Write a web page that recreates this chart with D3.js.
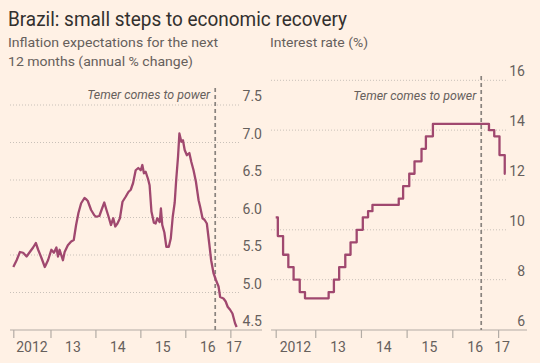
<!DOCTYPE html>
<html>
<head>
<meta charset="utf-8">
<script src="https://cdn.jsdelivr.net/npm/d3@7"></script>
<style>
  html, body { margin: 0; padding: 0; background: #fff1e5; }
  svg { display: block; font-family: Roboto, "Open Sans", sans-serif; }
</style>
</head>
<body>
<svg id="chart" width="540" height="363"></svg>
<script>
// ---------------- DATA ----------------
const inflDates = ["2012-03-05","2012-04-01","2012-04-28","2012-05-24","2012-06-21","2012-07-17","2012-08-13","2012-09-04","2012-09-23","2012-10-20","2012-11-16","2012-12-12","2013-01-08","2013-01-29","2013-02-18","2013-03-03","2013-03-16","2013-04-12","2013-04-26","2013-05-22","2013-06-18","2013-07-09","2013-07-28","2013-08-16","2013-09-07","2013-10-04","2013-10-20","2013-10-31","2013-11-27","2013-12-23","2014-01-06","2014-02-02","2014-02-24","2014-03-14","2014-04-01","2014-04-18","2014-05-07","2014-05-26","2014-06-11","2014-06-29","2014-07-19","2014-08-09","2014-09-05","2014-09-26","2014-10-15","2014-11-03","2014-11-24","2014-12-15","2015-01-04","2015-01-17","2015-01-30","2015-02-13","2015-03-05","2015-03-17","2015-04-01","2015-04-21","2015-05-05","2015-05-18","2015-06-07","2015-06-17","2015-06-28","2015-07-15","2015-07-31","2015-08-20","2015-09-05","2015-09-21","2015-10-07","2015-10-19","2015-11-03","2015-11-14","2015-11-30","2015-12-13","2015-12-27","2016-01-14","2016-02-03","2016-02-19","2016-03-08","2016-03-27","2016-04-18","2016-05-01","2016-05-20","2016-06-05","2016-06-24","2016-07-13","2016-07-29","2016-08-17","2016-09-05","2016-09-27","2016-10-10","2016-11-06","2016-11-24","2016-12-10","2016-12-30","2017-01-18","2017-02-08","2017-02-21"];
const inflValues = [5.34,5.43,5.54,5.53,5.48,5.54,5.60,5.66,5.57,5.46,5.34,5.43,5.57,5.53,5.60,5.48,5.57,5.43,5.54,5.63,5.68,5.70,5.90,6.06,6.19,6.26,6.24,6.22,6.10,6.03,6.01,6.02,6.12,6.20,6.10,6.01,5.90,5.99,5.88,5.92,5.99,6.21,6.28,6.34,6.37,6.46,6.63,6.66,6.63,6.70,6.59,6.61,6.51,6.43,6.08,5.93,5.92,5.99,5.94,6.12,5.90,5.80,5.61,5.61,5.72,6.01,6.20,6.50,6.81,7.12,7.01,7.03,6.90,6.83,6.86,6.74,6.63,6.48,6.23,6.14,5.99,5.97,5.92,5.66,5.43,5.26,5.17,5.08,4.94,4.92,4.88,4.81,4.77,4.72,4.59,4.54];

const rateDates = ["2012-02-20","2012-03-08","2012-04-19","2012-05-31","2012-07-12","2012-08-30","2012-10-11","2013-04-18","2013-05-30","2013-07-11","2013-08-29","2013-10-10","2013-11-28","2014-01-16","2014-02-27","2014-04-03","2014-10-30","2014-12-04","2015-01-22","2015-03-05","2015-04-30","2015-06-04","2015-07-30","2016-10-20","2016-12-01","2017-01-12","2017-02-23","2017-03-01"];
const rateValues = [10.5,9.75,9.0,8.5,8.0,7.5,7.25,7.5,8.0,8.5,9.0,9.5,10.0,10.5,10.75,11.0,11.25,11.75,12.25,12.75,13.25,13.75,14.25,14.0,13.75,13.0,12.25,12.25];

const inflTicks = [4.5, 5.0, 5.5, 6.0, 6.5, 7.0, 7.5];
const rateTicks = [6, 8, 10, 12, 14, 16];
const yearTicks = ["2013-01-01","2014-01-01","2015-01-01","2016-01-01","2017-01-01"];
const yearLabels = ["2012", "13", "14", "15", "16", "17"];
const eventDate = "2016-08-31";
const eventLabel = "Temer comes to power";

const title = "Brazil: small steps to economic recovery";
const subLeft = ["Inflation expectations for the next", "12 months (annual % change)"];
const subRight = "Interest rate (%)";

// ---------------- DRAW ----------------
const parse = d3.timeParse("%Y-%m-%d");
const svg = d3.select("#chart");
const C = { line: "#a0486f", text: "#66605c", title: "#33302e", grid: "#c9c1b9", axis: "#b3aca5", dash: "#89837e" };

svg.append("rect").attr("width", 540).attr("height", 363).attr("fill", "#fff1e5");

svg.append("text").attr("x", 8).attr("y", 26).attr("fill", C.title)
  .attr("font-size", 19.5).attr("textLength", 339).attr("lengthAdjust", "spacingAndGlyphs").text(title);
subLeft.forEach((s, i) => {
  svg.append("text").attr("x", 8).attr("y", 46.5 + i * 19).attr("fill", C.text)
    .attr("font-size", 13.5).attr("textLength", i === 0 ? 210 : 185).attr("lengthAdjust", "spacingAndGlyphs").text(s);
});
svg.append("text").attr("x", 270).attr("y", 46.5).attr("fill", C.text)
  .attr("font-size", 13.5).attr("textLength", 98).attr("lengthAdjust", "spacingAndGlyphs").text(subRight);

function panel(cfg) {
  const g = svg.append("g");
  const x = d3.scaleTime().domain(cfg.xDomain.map(parse)).range(cfg.xRange);
  const y = d3.scaleLinear().domain(cfg.yDomain).range(cfg.yRange);

  g.append("g").selectAll("line").data(cfg.yTicks.filter(t => t !== cfg.yDomain[0])).join("line")
    .attr("x1", cfg.gridX[0]).attr("x2", cfg.gridX[1])
    .attr("y1", d => y(d)).attr("y2", d => y(d))
    .attr("stroke", C.grid).attr("stroke-width", 1).attr("stroke-dasharray", "1,2");

  g.append("g").selectAll("text").data(cfg.yTicks).join("text")
    .attr("x", cfg.labelX).attr("y", d => y(d) - 4)
    .attr("text-anchor", "end").attr("fill", C.text).attr("font-size", 14)
    .text(d => cfg.fmt(d));

  g.append("line").attr("x1", cfg.axisX[0]).attr("x2", cfg.axisX[1])
    .attr("y1", cfg.axisY).attr("y2", cfg.axisY).attr("stroke", C.axis).attr("stroke-width", 1.2);

  const tickDates = [parse(cfg.xDomain[0])].concat(yearTicks.map(parse));
  const axis = d3.axisBottom(x).tickValues(tickDates).tickSize(8).tickFormat("");
  const ag = g.append("g").attr("transform", `translate(0,${cfg.axisY})`).call(axis);
  ag.select(".domain").remove();
  ag.selectAll(".tick line").attr("stroke", C.axis).attr("stroke-width", 1.2);

  const bounds = tickDates.concat([parse(cfg.xDomain[1])]);
  g.append("g").selectAll("text").data(yearLabels).join("text")
    .attr("x", (d, i) => (x(bounds[i]) + x(bounds[i + 1])) / 2)
    .attr("y", cfg.axisY + 21.5).attr("text-anchor", "middle")
    .attr("fill", C.text).attr("font-size", 14).text(d => d);

  const ex = x(parse(eventDate)) + cfg.eventShift;
  g.append("line").attr("x1", ex).attr("x2", ex).attr("y1", cfg.dashTop).attr("y2", cfg.axisY)
    .attr("stroke", C.dash).attr("stroke-width", 1.7).attr("stroke-dasharray", "4,3");
  g.append("text").attr("x", ex - 5).attr("y", cfg.eventY).attr("text-anchor", "end")
    .attr("font-style", "italic").attr("fill", C.text).attr("font-size", 12.5)
    .attr("textLength", 123).attr("lengthAdjust", "spacingAndGlyphs").text(eventLabel);

  const pts = cfg.dates.map((d, i) => [parse(d), cfg.values[i]]);
  const line = d3.line().x(d => x(d[0])).y(d => y(d[1])).curve(cfg.curve);
  g.append("path").datum(pts).attr("d", line).attr("fill", "none")
    .attr("stroke", C.line).attr("stroke-width", 2.3).attr("stroke-linejoin", "round");
}

panel({
  dates: inflDates, values: inflValues, curve: d3.curveLinear,
  xDomain: ["2012-03-05", "2017-02-28"], xRange: [13.3, 237.5],
  yDomain: [4.5, 7.5], yRange: [330, 105], yTicks: inflTicks, fmt: d3.format(".1f"),
  gridX: [10, 240], labelX: 262, axisX: [10, 262], axisY: 330,
  dashTop: 88, eventY: 98.5, eventShift: 0
});

panel({
  dates: rateDates, values: rateValues, curve: d3.curveStepAfter,
  xDomain: ["2012-02-20", "2017-03-05"], xRange: [275.7, 506],
  yDomain: [6, 16], yRange: [329.5, 80.3], yTicks: rateTicks, fmt: d3.format("d"),
  gridX: [271, 507], labelX: 525, axisX: [271, 527], axisY: 330,
  dashTop: 76, eventY: 100, eventShift: -1.5
});
</script>
</body>
</html>
